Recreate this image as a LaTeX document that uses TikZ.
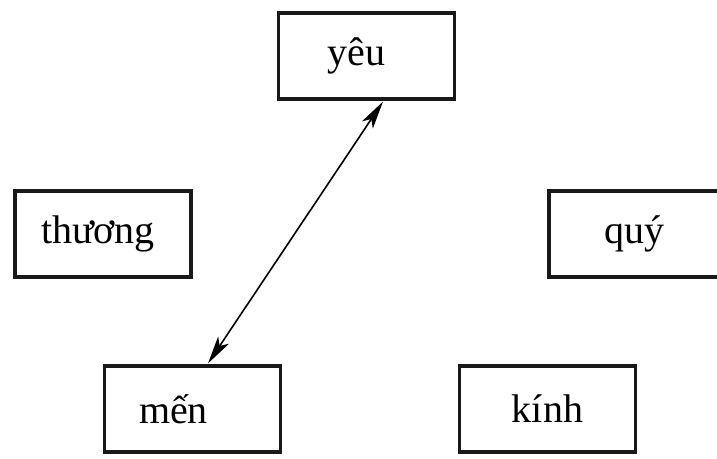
\documentclass[tikz,border=0pt]{standalone}
\usepackage{fontspec}
\setmainfont{Liberation Serif}
\usetikzlibrary{arrows.meta}
\begin{document}
\begin{tikzpicture}[x=1pt,y=-1pt,
  wordbox/.style={draw=black!90, line width=3.2pt, minimum width=176pt, minimum height=86pt, inner sep=0pt, font=\fontsize{40}{48}\selectfont},
  link/.style={line width=1.6pt, {Stealth[length=28pt,width=13pt,inset=7pt]}-{Stealth[length=28pt,width=13pt,inset=7pt]}}]
\useasboundingbox (0,0) rectangle (717,458);
\clip (0,0) rectangle (717,458);
\node[wordbox] (yeu) at (366.5,56) {\hspace*{-20pt}yêu};
\node[wordbox] (thuong) at (103,234) {\hspace*{-10pt}thương};
\node[wordbox] (quy) at (637,234) {\hspace*{-6pt}quý};
\node[wordbox] (men) at (192.5,409) {\hspace*{-38pt}mến};
\node[wordbox] (kinh) at (547.5,409) {kính};
\draw[link] ([xshift=16.5pt,yshift=-1pt]yeu.south) -- ([xshift=15.5pt,yshift=1pt]men.north);
\end{tikzpicture}
\end{document}
